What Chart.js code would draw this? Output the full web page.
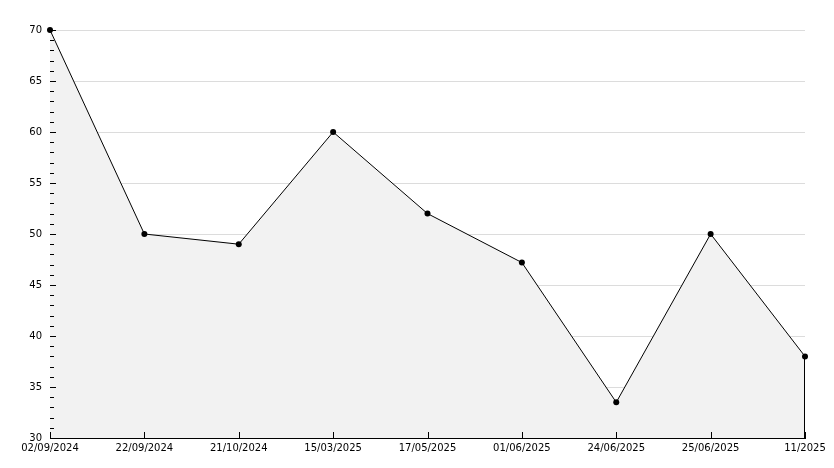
<!DOCTYPE html>
<html><head><meta charset="utf-8">
<script src="https://cdn.jsdelivr.net/npm/chart.js@4/dist/chart.umd.min.js"></script>
<style>html,body{margin:0;padding:0;background:#fff}#wrap{width:834px;height:468px}</style>
</head><body><div id="wrap"><canvas id="c" width="834" height="468"></canvas></div>
<script>
const categories = ["02/09/2024","22/09/2024","21/10/2024","15/03/2025","17/05/2025","01/06/2025","24/06/2025","25/06/2025","11/2025"];
const values = [70, 50, 49, 60, 52, 47.2, 33.5, 50, 38];
const yMin = 30, yMax = 70, yStep = 5;

const tickPlugin = {
  id: 'inwardTicks',
  afterDatasetsDraw(chart) {
    const ctx = chart.ctx, y = chart.scales.y, x = chart.scales.x, a = chart.chartArea;
    ctx.save();
    ctx.strokeStyle = '#000'; ctx.lineWidth = 1;
    ctx.beginPath();
    for (let v = yMin; v <= yMax; v++) {
      const py = Math.round(y.getPixelForValue(v)) + 0.5;
      const len = (v % yStep === 0) ? 6 : 4;
      ctx.moveTo(a.left, py); ctx.lineTo(a.left + len, py);
    }
    for (let i = 0; i < categories.length; i++) {
      const px = Math.round(x.getPixelForValue(i)) + 0.5;
      ctx.moveTo(px, a.bottom); ctx.lineTo(px, a.bottom - 6);
    }
    const last = categories.length - 1;
    const lx = Math.round(x.getPixelForValue(last)) - 0.5;
    ctx.moveTo(lx, y.getPixelForValue(values[last])); ctx.lineTo(lx, a.bottom);
    ctx.stroke();
    ctx.restore();
  }
};

new Chart(document.getElementById('c'), {
  type: 'line',
  data: {
    labels: categories,
    datasets: [{
      data: values, clip: false,
      borderColor: '#000', borderWidth: 1, tension: 0,
      backgroundColor: '#f2f2f2', fill: 'start',
      pointRadius: 3, pointHoverRadius: 3, pointBackgroundColor: '#000', pointBorderColor: '#000', pointBorderWidth: 0
    }]
  },
  options: {
    responsive: false, animation: false, devicePixelRatio: 1,
    layout: { padding: { top: 30, right: 29, left: 0, bottom: 0 } },
    plugins: { legend: { display: false }, tooltip: { enabled: false } },
    scales: {
      x: {
        offset: false,
        grid: { display: false, drawTicks: false },
        border: { display: true, color: '#000', width: 1 },
        ticks: { autoSkip: false, maxRotation: 0, padding: 4, color: '#000', font: { family: 'DejaVu Sans', size: 10 } },
        afterFit(s) { s.height = 30; }
      },
      y: {
        min: yMin, max: yMax,
        grid: { color: '#dcdcdc', drawTicks: false, lineWidth: 1 },
        border: { display: true, color: '#000', width: 1 },
        ticks: { stepSize: yStep, padding: 8, color: '#000', font: { family: 'DejaVu Sans', size: 10 } },
        afterFit(s) { s.width = 50; }
      }
    }
  },
  plugins: [tickPlugin]
});
</script>
</body></html>
